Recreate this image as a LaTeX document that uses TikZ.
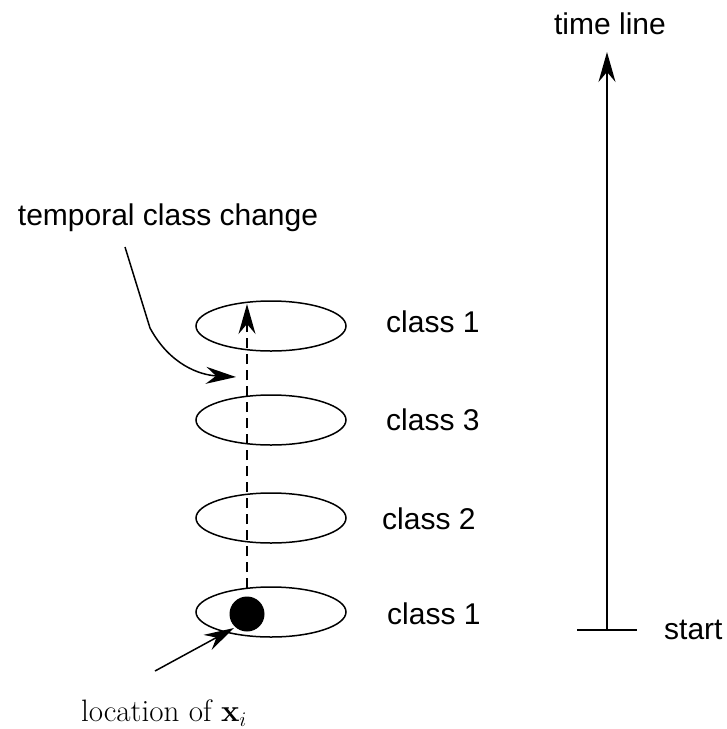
\documentclass[tikz,border=0pt]{standalone}
\usepackage{fontspec}
\setmainfont{Latin Modern Roman}
\newfontfamily\labfont{Liberation Sans}
\usetikzlibrary{arrows.meta}
\begin{document}
\begin{tikzpicture}[x=1pt,y=-1pt,
  lab/.style={font=\labfont\fontsize{30}{36}\selectfont, inner sep=0pt},
  arr/.style={line width=1.5pt, -{Stealth[length=30pt,width=17pt,inset=10pt]}},
]
\useasboundingbox (0,0) rectangle (727,729);
% ellipses
\draw[line width=1.5pt] (271,326) ellipse [x radius=75, y radius=25];
\draw[line width=1.5pt] (271,420) ellipse [x radius=75, y radius=25];
\draw[line width=1.5pt] (271,518) ellipse [x radius=75, y radius=25];
\draw[line width=1.5pt] (271,612) ellipse [x radius=75, y radius=25];
% point
\fill (247,614) circle [radius=17.5];
% dashed line
\coordinate (dbot) at (247,588);
\coordinate (dtop) at (247,304);
\draw[arr, dash pattern=on 10pt off 6pt] (dbot) -- (dtop);
% class labels
\node[lab, anchor=west] (c1) at (386,322) {class 1};
\node[lab, anchor=west] (c3) at (386,420) {class 3};
\node[lab, anchor=west] (c2) at (382,519) {class 2};
\node[lab, anchor=west] (c0) at (387,614) {class 1};
% temporal class change
\node[lab] (tcc) at (168,218) {temporal class change};
\coordinate (tcs) at (125,247);
\coordinate (tct) at (236,377);
\draw[arr] (tcs) -- (150,328) .. controls (170,365) and (200,375) .. (tct);
% location label
\node[inner sep=0pt, font=\fontsize{31}{37}\selectfont] (loc) at (164,713) {location of $\mathbf{x}_i$};
\coordinate (las) at (155,671);
\coordinate (lat) at (234,628);
\draw[arr] (las) -- (lat);
% time line
\coordinate (tbot) at (607,630);
\coordinate (ttop) at (607,52);
\draw[arr] (tbot) -- (ttop);
\coordinate (tickl) at (577,630);
\coordinate (tickr) at (637,630);
\draw[line width=1.5pt] (tickl) -- (tickr);
\node[lab] (tl) at (610,24) {time line};
\node[lab, anchor=west] (st) at (664,630) {start};
\end{tikzpicture}
\end{document}
